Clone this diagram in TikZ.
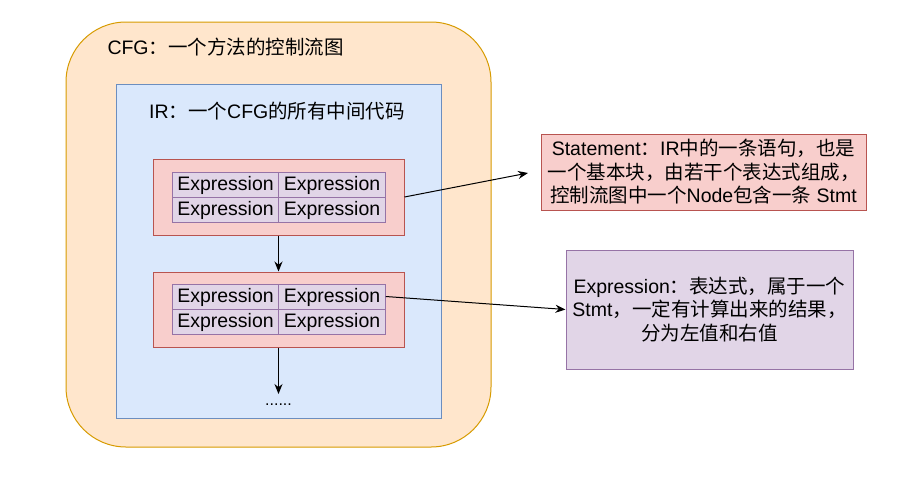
\documentclass[tikz,border=0pt]{standalone}
\usepackage{fontspec}
\setmainfont{Liberation Sans}
\newfontfamily\cjk{Noto Sans CJK SC}
\newcommand\zh[1]{{\cjk #1}}
\usetikzlibrary{arrows.meta}
\definecolor{cfgfill}{HTML}{FFE6CC}\definecolor{cfgline}{HTML}{D79B00}
\definecolor{irfill}{HTML}{DAE8FC}\definecolor{irline}{HTML}{6C8EBF}
\definecolor{stfill}{HTML}{F8CECC}\definecolor{stline}{HTML}{B85450}
\definecolor{exfill}{HTML}{E1D5E7}\definecolor{exline}{HTML}{9673A6}
\tikzset{
  stmtbox/.style={draw=stline,fill=stfill,inner sep=0pt},
  exprcell/.style={draw=exline,fill=exfill,inner sep=0pt,minimum width=106.5pt,minimum height=25pt,text height=14pt,text depth=3pt},
}

\begin{document}
\begin{tikzpicture}[x=1pt,y=-1pt,line width=1pt,>={Stealth[length=10pt,width=8pt]},
  every node/.style={font=\fontsize{19.5}{23.5}\selectfont}]
\useasboundingbox (0,0) rectangle (905,488);
\node[draw=cfgline,fill=cfgfill,rounded corners=60pt,minimum width=425pt,minimum height=425pt] (cfg) at (278.5,234.5) {};
\node[anchor=west,inner sep=0pt] (cfglabel) at (107,47) {CFG\zh{：一个方法的控制流图}};
\node[draw=irline,fill=irfill,minimum width=325pt,minimum height=334pt] (ir) at (278.5,251) {};
\node[inner sep=0pt] (irlabel) at (277,111) {IR\zh{：一个}CFG\zh{的所有中间代码}};
% two statements, each a 2x2 block of expressions
\node[stmtbox,minimum width=251pt,minimum height=76pt] (stmtA) at (278.5,197) {};
\node[stmtbox,minimum width=251pt,minimum height=75pt] (stmtB) at (278.5,309.5) {};
\foreach \r/\ya/\yb in {1/184.5/296.5,2/209.5/321.5}
  \foreach \c/\x in {1/225.5,2/332}{
    \node[exprcell] (a\r\c) at (\x,\ya) {Expression};
    \node[exprcell] (b\r\c) at (\x,\yb) {Expression};
  }
\node[inner sep=0pt,text height=11pt,anchor=north,font=\fontsize{16}{18}\selectfont] (more) at (278.5,394) {......};
\draw[->](stmtA.south)--(stmtB.north);\draw[->](stmtB.south)--(more.north);
% notes on the right
\node[stmtbox,minimum width=325pt,minimum height=76pt,align=center] (stmtnote) at (703.5,172)
  {Statement\zh{：}IR\zh{中的一条语句，也是}\\\zh{一个基本块，由若干个表达式组成，}\\\zh{控制流图中一个}Node\zh{包含一条} Stmt};
\node[draw=exline,fill=exfill,inner sep=0pt,minimum width=287pt,minimum height=119pt,align=center] (exprnote) at (709.5,309.5)
  {Expression\zh{：表达式，属于一个}\\Stmt\zh{，一定有计算出来的结果，}\\\zh{分为左值和右值}};
\coordinate (stmttip) at (528,173);
\draw[->](stmtA.east)--(stmttip);\draw[->](b12.east)--(exprnote.west);
\end{tikzpicture}
\end{document}
